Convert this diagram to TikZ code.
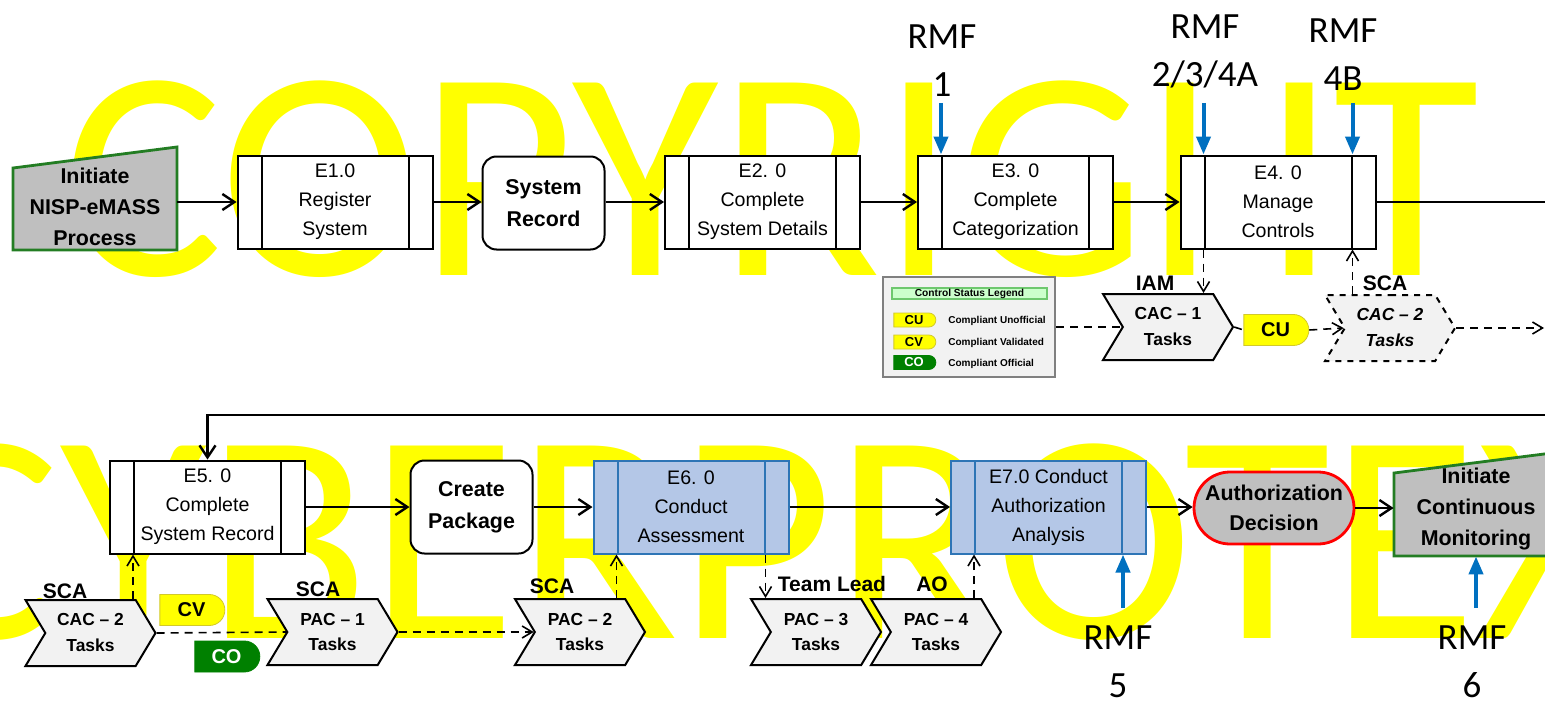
\documentclass[tikz,border=0pt]{standalone}
\usepackage{fontspec}
\setmainfont{Liberation Sans}
\newfontfamily\rmffont{Carlito}
\usetikzlibrary{arrows.meta,shapes.symbols,shapes.misc}

\definecolor{wmyellow}{RGB}{255,255,0}
\definecolor{eblue}{RGB}{46,117,182}
\definecolor{ebluefill}{RGB}{180,199,231}
\definecolor{rmfblue}{RGB}{0,112,192}
\definecolor{procgray}{RGB}{191,191,191}
\definecolor{startgreen}{RGB}{35,125,35}
\definecolor{chevfill}{RGB}{242,242,242}
\definecolor{cogreen}{RGB}{0,128,0}
\definecolor{legtitle}{RGB}{204,255,204}
\definecolor{legline}{RGB}{110,200,110}
\definecolor{legborder}{RGB}{128,128,128}

\tikzset{
  ebar/.style={draw=black},
  ebox/.style={draw, line width=1pt, fill=white, minimum width=97.5pt, minimum height=46.5pt,
    inner sep=0pt, align=center, font=\fontsize{9.8}{14.5}\selectfont,
    path picture={\draw[ebar, line width=1pt]
      ([xshift=12pt]path picture bounding box.north west) -- ([xshift=12pt]path picture bounding box.south west)
      ([xshift=-12pt]path picture bounding box.north east) -- ([xshift=-12pt]path picture bounding box.south east);}},
  bluebox/.style={ebox, draw=eblue, fill=ebluefill, ebar/.style={draw=eblue}},
  procbox/.style={draw, line width=1pt, fill=white, rounded corners=7pt, minimum width=61pt,
    minimum height=46.5pt, align=center, font=\bfseries\fontsize{10.7}{16}\selectfont},
  decision/.style={rounded rectangle, draw=red, line width=1.4pt, fill=procgray, minimum width=80pt,
    minimum height=36pt, inner sep=0pt, align=center, font=\bfseries\fontsize{10.7}{15}\selectfont},
  starttxt/.style={align=center, inner sep=0pt, minimum width=82pt, font=\bfseries\fontsize{10.7}{15.5}\selectfont},
  chev/.style={signal, signal to=east, signal from=west, signal pointer angle=118, draw, line width=1pt,
    fill=chevfill, minimum width=65pt, minimum height=33pt, inner sep=0pt, align=center,
    font=\bfseries\fontsize{8.7}{13}\selectfont},
  role/.style={inner sep=0pt, font=\bfseries\fontsize{10.5}{12}\selectfont},
  tag/.style={rounded rectangle, rounded rectangle left arc=none, fill=wmyellow, draw=yellow!80!black,
    line width=0.4pt, minimum width=32.5pt, minimum height=15.5pt, inner sep=0pt,
    font=\bfseries\fontsize{10}{12}\selectfont},
  cotag/.style={tag, fill=cogreen, draw=cogreen, text=white},
  legtag/.style={tag, minimum width=21pt, minimum height=7pt, font=\bfseries\fontsize{6.5}{7}\selectfont},
  legtxt/.style={anchor=west, inner sep=0pt, font=\bfseries\fontsize{5}{6}\selectfont},
  flow/.style={line width=1.2pt, -{Straight Barb[length=6pt,width=8pt]}},
  dflow/.style={line width=0.8pt, dash pattern=on 4pt off 3pt, -{Straight Barb[length=5pt,width=6pt]}},
  dline/.style={line width=0.8pt, dash pattern=on 4pt off 3pt},
  rmfarrow/.style={draw=rmfblue, line width=2pt, -{Triangle[length=9pt,width=7pt]}},
  rmflabel/.style={align=center, inner sep=0pt, font=\rmffont\fontsize{18.5}{24}\selectfont},
  wmark/.style={anchor=base west, inner sep=0pt, text=wmyellow, font=\rmffont\fontsize{150}{150}\selectfont}
}

\begin{document}
\begin{tikzpicture}[x=0.5pt, y=-0.5pt]
  \useasboundingbox (0,0) rectangle (1545,701);
  \clip (0,0) rectangle (1545,701);

  \node[wmark] (wmtop) at (63,275) {COPYRIGHT};
  \node[wmark] (wmbot) at (-100,638) {CYBERPROTEX};

  % top row
  \filldraw[fill=procgray, draw=startgreen, line width=1.4pt]
    (13,250) -- (177,250) -- (177,147) -- (13,168) -- cycle;
  \node[starttxt, minimum height=43pt] (init) at (95,207) {Initiate\\NISP-eMASS\\Process};
  \node[ebox] (e1) at (335,202) {E1.0\\Register\\System};
  \node[procbox] (sysrec) at (543.5,203) {System\\Record};
  \node[ebox] (e2) at (762.5,202) {E2. 0\\Complete\\System Details};
  \node[ebox] (e3) at (1015.5,202) {E3. 0\\Complete\\Categorization};
  \node[ebox] (e4) at (1278,202) {E4. 0\\Manage\\Controls};

  \node[rmflabel] (rmf1) at (942,61) {RMF\\1};
  \node[rmflabel] (rmf2) at (1205,51) {RMF\\2/3/4A};
  \node[rmflabel] (rmf4b) at (1343,55) {RMF\\4B};
  \coordinate (rmftop) at (0,103);

  \node[draw=legborder, line width=1pt, fill=chevfill, minimum width=86pt, minimum height=50pt, inner sep=0pt] (legend) at (969,327) {};
  \node[draw=legline, line width=0.6pt, fill=legtitle, minimum width=77.5pt, minimum height=5.5pt, inner sep=0pt,
    font=\bfseries\fontsize{5.1}{6}\selectfont] (legtitle) at (969.5,293.5) {Control Status Legend};
  \node[legtag] (legcu) at (914,320) {CU};
  \node[legtag] (legcv) at (914,342) {CV};
  \node[legtag, fill=cogreen, draw=cogreen, text=white] (legco) at (914,362.5) {CO};
  \node[legtxt] (legcutxt) at (948,321) {Compliant Unofficial};
  \node[legtxt] (legcvtxt) at (948,343) {Compliant Validated};
  \node[legtxt] (legcotxt) at (948,363.5) {Compliant Official};

  \node[chev] (cac1) at (1168,327) {CAC – 1\\Tasks};
  \node[tag] (cu) at (1275.5,330) {CU};
  \node[chev, dashed, font=\bfseries\itshape\fontsize{8.7}{13}\selectfont] (cac2) at (1390,328) {CAC – 2\\Tasks};
  \node[role] (iam) at (1155,283) {IAM};
  \node[role] (scatop) at (1385,283) {SCA};
  \coordinate (edgeC) at (1544,328);
  \coordinate (wrapA) at (1570,202);
  \coordinate (wrapB) at (1570,415);

  % bottom row
  \node[ebox] (e5) at (207.5,507) {E5. 0\\Complete\\System Record};
  \node[procbox] (pkg) at (471.5,507) {Create\\Package};
  \node[bluebox] (e6) at (691,507) {E6. 0\\Conduct\\Assessment};
  \node[bluebox] (e7) at (1048.5,507) {E7.0 Conduct\\Authorization\\Analysis};
  \node[decision] (authdec) at (1274,508) {Authorization\\Decision};
  \filldraw[fill=procgray, draw=startgreen, line width=1.4pt]
    (1394,556) -- (1394,473) -- (1560,452) -- (1560,556) -- cycle;
  \node[starttxt, minimum height=47pt] (initcm) at (1476,509) {Initiate\\Continuous\\Monitoring};

  \node[rmflabel] (rmf5) at (1118,662) {RMF\\5};
  \node[rmflabel] (rmf6) at (1472,662) {RMF\\6};
  \coordinate (rmfbot) at (0,608);

  \node[chev] (cac2b) at (90.5,633) {CAC – 2\\Tasks};
  \foreach \nm/\x/\n in {pac1/332.5/1, pac2/580/2, pac3/816/3, pac4/936/4} {
    \node[chev] (\nm) at (\x,632) {PAC – \n\\Tasks};
  }
  \foreach \nm/\x/\y/\txt in {scaa/65/591/SCA, scab/318/589/SCA, scac/552/586/SCA, tlead/832/584/Team Lead, ao/932/584/AO} {
    \node[role] (\nm) at (\x,\y) {\txt};
  }
  \node[tag] (cv) at (191.5,610) {CV};
  \node[cotag] (co) at (226.5,656.5) {CO};

  % connectors
  \draw[flow] (init.east |- e1.west) -- (e1.west);
  \draw[flow] (e1.east) -- (e1.east -| sysrec.west);
  \draw[flow] (sysrec.east |- e2.west) -- (e2.west);
  \draw[flow] (e2) -- (e3);
  \draw[flow] (e3) -- (e4);
  \draw[flow] (e4.east) -- (wrapA) -- (wrapB) -| (e5);

  \draw[rmfarrow] ([xshift=12pt]e3.north west |- rmftop) -- ([xshift=12pt]e3.north west);
  \draw[rmfarrow] ([xshift=12pt]e4.north west |- rmftop) -- ([xshift=12pt]e4.north west);
  \draw[rmfarrow] ([xshift=-12pt]e4.north east |- rmftop) -- ([xshift=-12pt]e4.north east);

  \draw[dline] (legend.east) -- (cac1.west);
  \draw[dline] (cac1.east) -- (cu.west);
  \draw[dflow] (cu.east) -- (cac2.west);
  \draw[dflow] (cac2.east) -- (edgeC);
  \draw[dflow] ([xshift=12pt]e4.south west) -- ([xshift=12pt]e4.south west |- cac1.north);
  \draw[dflow] ([xshift=-12pt]e4.south east |- cac2.north) -- ([xshift=-12pt]e4.south east);

  \draw[flow] (e5.east) -- (e5.east -| pkg.west);
  \draw[flow] (pkg) -- (e6);
  \draw[flow] (e6) -- (e7);
  \draw[flow] (e7.east) -- (e7.east -| authdec.west);
  \draw[flow] (authdec.east) -- (authdec.east -| initcm.west);

  \draw[rmfarrow] ([xshift=-12pt]e7.south east |- rmfbot) -- ([xshift=-12pt]e7.south east);
  \draw[rmfarrow] (initcm.south |- rmfbot) -- (initcm.south);

  \draw[dflow] ([xshift=12pt]e5.south west |- cac2b.north) -- ([xshift=12pt]e5.south west);
  \draw[dline] (cac2b.east) -- (pac1.west);
  \draw[dflow] (pac1.east) -- (pac2.west);
  \draw[dflow] ([xshift=12pt]e6.south west |- pac2.north) -- ([xshift=12pt]e6.south west);
  \draw[dflow] ([xshift=-12pt]e6.south east) -- ([xshift=-12pt]e6.south east |- pac3.north);
  \draw[dflow] ([xshift=12pt]e7.south west |- pac4.north) -- ([xshift=12pt]e7.south west);
\end{tikzpicture}
\end{document}
